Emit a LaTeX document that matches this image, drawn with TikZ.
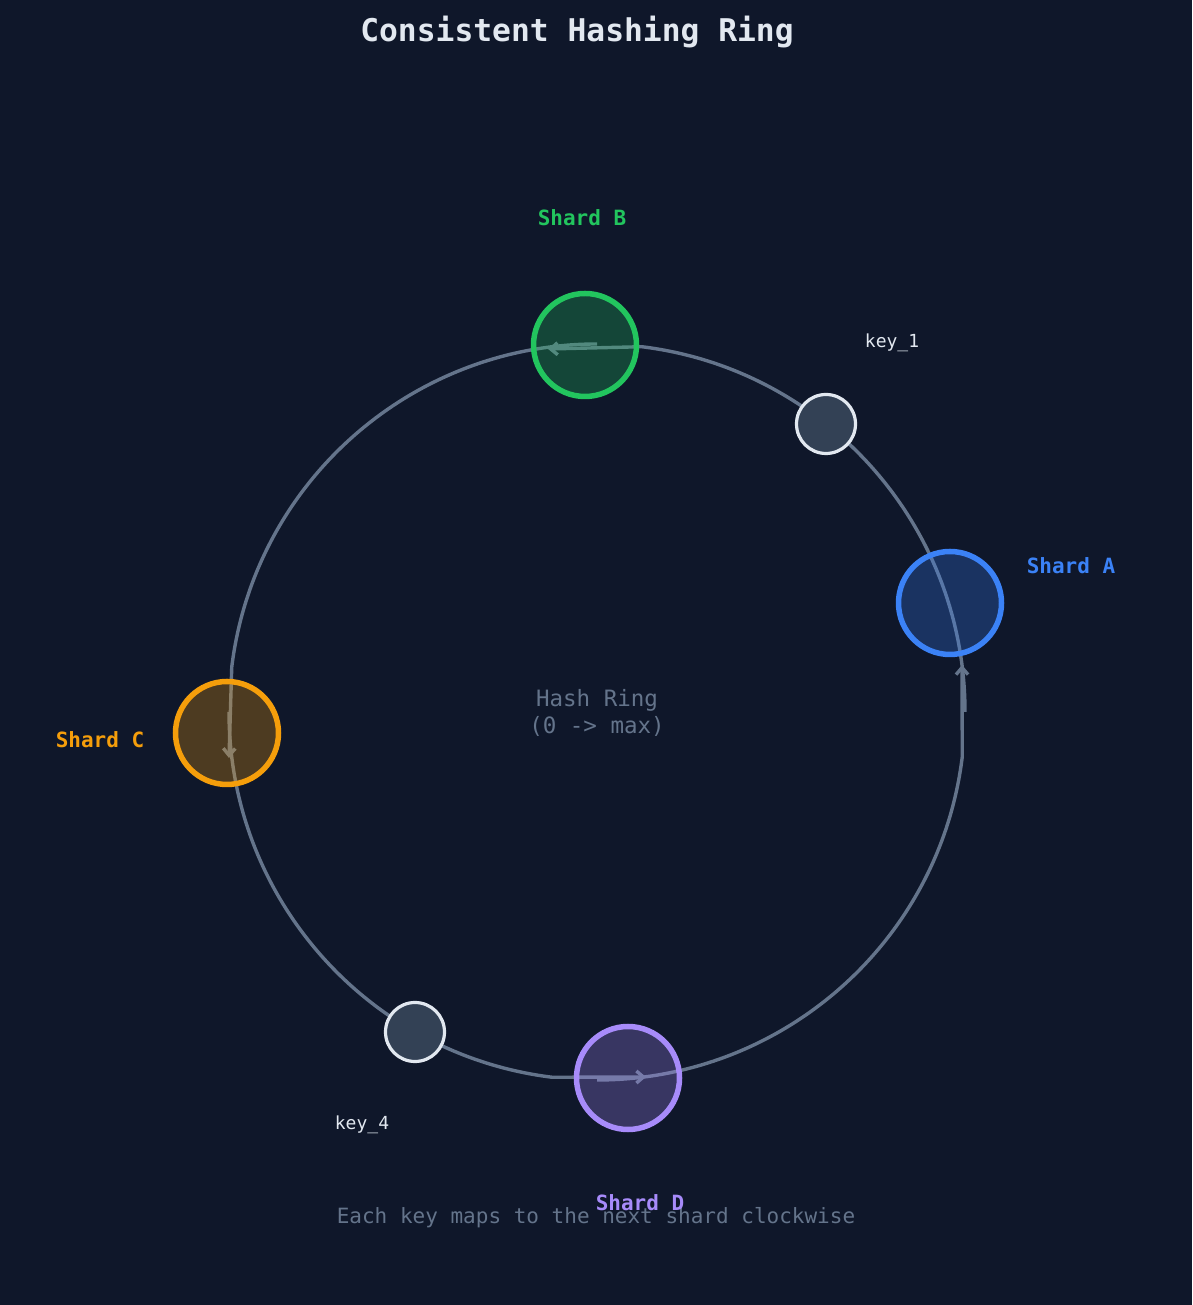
\documentclass[tikz,border=0pt]{standalone}
\usepackage{fontspec}
\newfontfamily\mono{DejaVu Sans Mono}
\usetikzlibrary{arrows.meta}
\definecolor{bg}{HTML}{0F172A}
\definecolor{ringc}{HTML}{64748B}
\definecolor{txt}{HTML}{E2E8F0}
\definecolor{keyfill}{HTML}{334155}
\definecolor{cA}{HTML}{3B82F6}
\definecolor{cB}{HTML}{22C55E}
\definecolor{cC}{HTML}{F59E0B}
\definecolor{cD}{HTML}{A78BFA}
\tikzset{
  ringarc/.style={draw=ringc, line width=3.4pt, -{Straight Barb[length=7pt,width=12pt]}},
  shard/.style={circle, minimum size=103pt, inner sep=0pt, line width=5.5pt, draw=#1, fill=#1, fill opacity=0.27, draw opacity=1},
  keynode/.style={circle, minimum size=59pt, inner sep=0pt, line width=3.2pt, draw=txt, fill=keyfill},
  shardlabel/.style={text=#1, font=\mono\bfseries\fontsize{21}{25}\selectfont},
  keylabel/.style={text=txt, font=\mono\fontsize{18}{22}\selectfont},
  note/.style={text=ringc, font=\mono\fontsize{21}{25}\selectfont, align=center},
  titlestyle/.style={text=txt, font=\mono\bfseries\fontsize{31.3}{36}\selectfont}
}
\begin{document}
\begin{tikzpicture}[x=1pt,y=1pt]
\fill[bg] (0,0) rectangle (1192,1305);
\useasboundingbox (0,0) rectangle (1192,1305);

% ring quarter arcs
\coordinate (Cen) at (597,593);
\coordinate (pBot) at (597,225);
\coordinate (pRight) at (965,593);
\coordinate (pTop) at (597,961);
\coordinate (pLeft) at (229,593);
\coordinate (tA) at (962,640);
\coordinate (tB) at (548,956);
\coordinate (tC) at (229,547);
\coordinate (tD) at (646,228);

\draw[ringarc] (pBot) arc[start angle=270, end angle=353, radius=368] -- (tA);
\draw[ringarc] (pRight) arc[start angle=0, end angle=83, radius=368] -- (tB);
\draw[ringarc] (pTop) arc[start angle=90, end angle=173, radius=368] -- (tC);
\draw[ringarc] (pLeft) arc[start angle=180, end angle=263, radius=368] -- (tD);

% keys
\node[keynode] (k1) at (826,881) {};
\node[keynode] (k4) at (415,273) {};

% shards
\node[shard=cA] (A) at (950,702) {};
\node[shard=cB] (B) at (585,960) {};
\node[shard=cC] (C) at (227,572) {};
\node[shard=cD] (D) at (628,227) {};

% labels
\node[titlestyle] (title) at (577,1273) {Consistent Hashing Ring};
\node[shardlabel=cA] (lA) at (1071,739) {Shard A};
\node[shardlabel=cB] (lB) at (582,1087) {Shard B};
\node[shardlabel=cC] (lC) at (100,565) {Shard C};
\node[keylabel] (l1) at (892,962) {key\_1};
\node[keylabel] (l4) at (362,180) {key\_4};
\node[note, font=\mono\fontsize{22.5}{27}\selectfont] (center) at (597,592) {Hash Ring\\(0 -> max)};
\node[note] (caption) at (596,87) {Each key maps to the next shard clockwise};
\node[shardlabel=cD] (lD) at (640,102) {Shard D};
\end{tikzpicture}
\end{document}
